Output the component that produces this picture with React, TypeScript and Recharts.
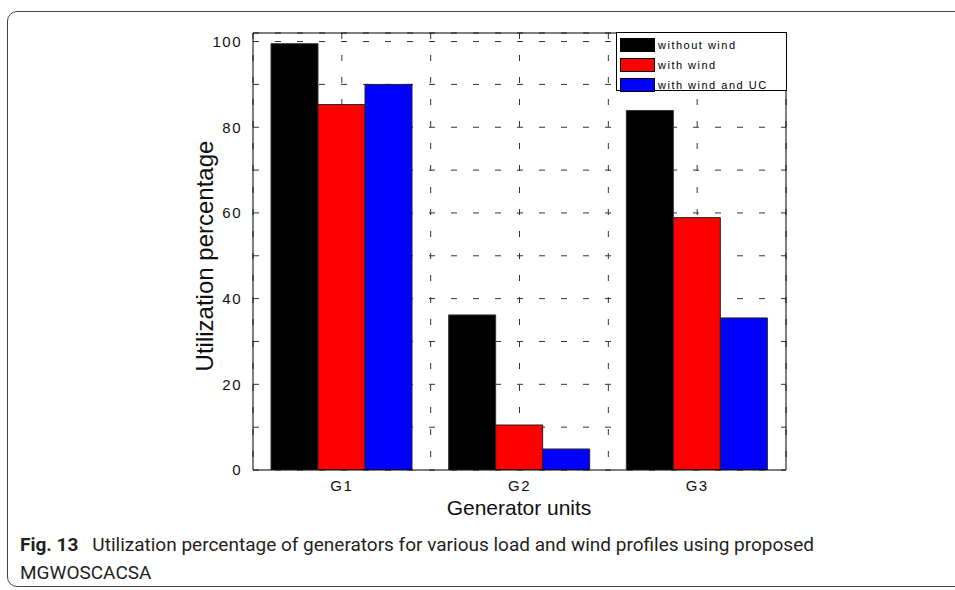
import { BarChart, Bar, XAxis, YAxis, CartesianGrid, Legend } from "recharts";

const units = ["G1", "G2", "G3"];
const seriesNames = ["without wind", "with wind", "with wind and UC"];
const withoutWind = [99.5, 36.2, 83.9];
const withWind = [85.3, 10.5, 58.9];
const withWindUC = [90.0, 4.9, 35.5];
const yTicks = [0, 10, 20, 30, 40, 50, 60, 70, 80, 90, 100];
const xTicks = [1, 1.5, 2, 2.5, 3];

const data = units.map((u, i) => ({
  x: i + 1,
  unit: u,
  withoutWind: withoutWind[i],
  withWind: withWind[i],
  withWindUC: withWindUC[i],
}));

const axisFont = "'Liberation Sans', Arial, sans-serif";

function LegendBox(props: any) {
  const items = [...(props.payload || [])].sort(
    (a: any, b: any) => seriesNames.indexOf(a.value) - seriesNames.indexOf(b.value)
  );
  return (
    <div
      style={{
        border: "1px solid #000",
        background: "#fff",
        width: 171,
        height: 59,
        boxSizing: "border-box",
        padding: "2px 0 0 3px",
      }}
    >
      {items.map((it: any) => (
        <div key={it.value} style={{ display: "flex", alignItems: "center", height: 20 }}>
          <div
            style={{
              width: 35,
              height: 14,
              background: it.color,
              border: "1px solid #000",
              boxSizing: "border-box",
            }}
          />
          <span
            style={{
              marginLeft: 3,
              fontFamily: axisFont,
              fontSize: 11,
              letterSpacing: 1.5,
              color: "#000",
            }}
          >
            {it.value}
          </span>
        </div>
      ))}
    </div>
  );
}

export default function App() {
  return (
    <div style={{ position: "fixed", left: 0, top: 0, width: 955, height: 590, background: "#fff", overflow: "hidden" }}>
      <div
        style={{
          position: "absolute",
          left: 7,
          top: 11,
          width: 1000,
          height: 576,
          border: "1.5px solid #444",
          borderRadius: 10,
          boxSizing: "border-box",
        }}
      />
      <div style={{ position: "absolute", left: 0, top: 0 }}>
        <BarChart
          width={955}
          height={590}
          data={data}
          margin={{ top: 33, right: 169, bottom: 90, left: 193 }}
          barSize={47}
          barGap={0}
        >
          <CartesianGrid xAxisId="x" yAxisId="y" stroke="#333" strokeDasharray="6 16" />
          <Bar xAxisId="x" yAxisId="y" dataKey="withoutWind" name={seriesNames[0]} fill="#000000" stroke="#333" strokeWidth={1} isAnimationActive={false} />
          <Bar xAxisId="x" yAxisId="y" dataKey="withWind" name={seriesNames[1]} fill="#ff0000" stroke="#222" strokeWidth={1} isAnimationActive={false} />
          <Bar xAxisId="x" yAxisId="y" dataKey="withWindUC" name={seriesNames[2]} fill="#0000ff" stroke="#222" strokeWidth={1} isAnimationActive={false} />
          <XAxis
            xAxisId="x"
            type="number"
            dataKey="x"
            domain={[0.5, 3.5]}
            ticks={xTicks}
            allowDataOverflow
            tickFormatter={(v: number) => (Number.isInteger(v) ? units[v - 1] : "")}
            tickLine={false}
            tickSize={0}
            tickMargin={10}
            height={30}
            axisLine={{ stroke: "#000" }}
            tick={{ fill: "#111", fontSize: 15, fontFamily: axisFont, letterSpacing: 1.5 }}
          />
          <XAxis
            xAxisId="xIn"
            type="number"
            dataKey="x"
            domain={[0.5, 3.5]}
            ticks={xTicks}
            allowDataOverflow
            mirror
            tick={false}
            tickSize={6}
            tickLine={{ stroke: "#000" }}
            axisLine={false}
          />
          <XAxis
            xAxisId="xTop"
            orientation="top"
            type="number"
            dataKey="x"
            domain={[0.5, 3.5]}
            ticks={xTicks}
            allowDataOverflow
            mirror
            tick={false}
            tickSize={6}
            tickLine={{ stroke: "#000" }}
            axisLine={{ stroke: "#000" }}
          />
          <YAxis
            yAxisId="y"
            domain={[0, 102]}
            ticks={yTicks}
            allowDataOverflow
            width={60}
            tickLine={false}
            tickSize={0}
            tickMargin={11}
            axisLine={{ stroke: "#000" }}
            tickFormatter={(v: number) => (v % 20 === 0 ? String(v) : "")}
            tick={{ fill: "#111", fontSize: 15, fontFamily: axisFont, letterSpacing: 1.5 }}
          />
          <YAxis
            yAxisId="yIn"
            domain={[0, 102]}
            ticks={yTicks}
            allowDataOverflow
            mirror
            tick={false}
            tickSize={6}
            tickLine={{ stroke: "#000" }}
            axisLine={false}
          />
          <YAxis
            yAxisId="yR"
            orientation="right"
            domain={[0, 102]}
            ticks={yTicks}
            allowDataOverflow
            mirror
            tick={false}
            tickSize={6}
            tickLine={{ stroke: "#000" }}
            axisLine={{ stroke: "#000" }}
          />
          <Legend
            layout="vertical"
            align="center"
            verticalAlign="middle"
            content={<LegendBox />}
            wrapperStyle={{ position: "absolute", left: 616, top: 32, width: 171 }}
          />
        </BarChart>
      </div>
      <div
        style={{
          position: "absolute",
          left: 205,
          top: 256,
          transform: "translate(-50%, -50%) rotate(-90deg)",
          whiteSpace: "nowrap",
          fontFamily: axisFont,
          fontSize: 24,
          color: "#111",
        }}
      >
        Utilization percentage
      </div>
      <div
        style={{
          position: "absolute",
          left: 519,
          top: 508,
          transform: "translate(-50%, -50%)",
          whiteSpace: "nowrap",
          fontFamily: axisFont,
          fontSize: 21,
          lineHeight: "22px",
          color: "#111",
        }}
      >
        Generator units
      </div>
      <div
        style={{
          position: "absolute",
          left: 20,
          top: 531,
          fontFamily: "Roboto, sans-serif",
          fontSize: 19,
          lineHeight: "28px",
          color: "#231f20",
          whiteSpace: "nowrap",
        }}
      >
        <span style={{ fontWeight: 700 }}>Fig. 13</span>
        <span style={{ marginLeft: 14 }}>
          Utilization percentage of generators for various load and wind profiles using proposed
        </span>
        <br />
        MGWOSCACSA
      </div>
    </div>
  );
}
